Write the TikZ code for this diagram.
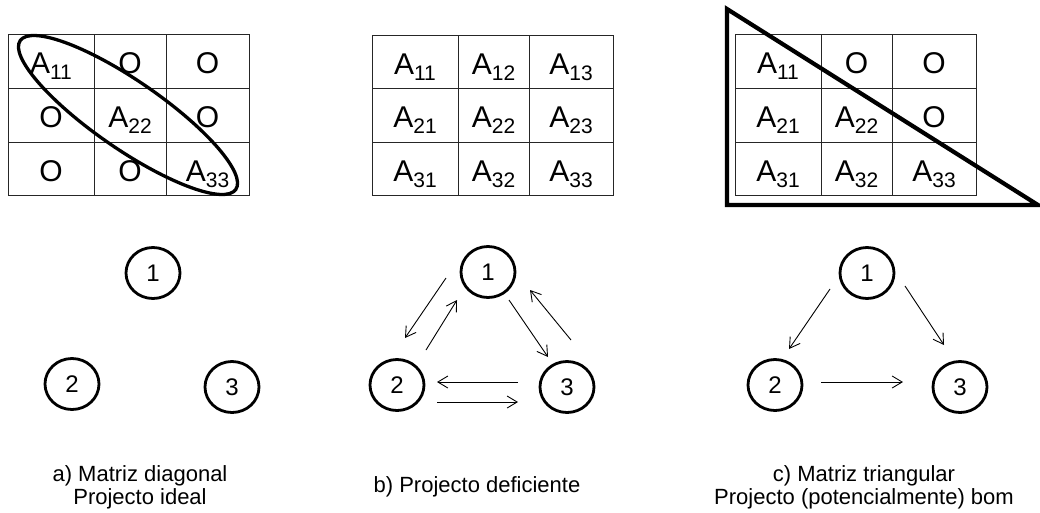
\documentclass[tikz,border=0pt]{standalone}
\usepackage{fontspec}
\setmainfont{Liberation Sans}
\usetikzlibrary{arrows.meta,shapes.geometric}
\newcommand{\mA}[1]{A\raisebox{-6.5pt}{\fontsize{21}{21}\selectfont #1}}
\begin{document}
\begin{tikzpicture}[x=1pt,y=-1pt,
  grid/.style={line width=0.9pt,black!85},
  cell/.style={anchor=base,inner sep=0pt,font=\fontsize{30}{32}\selectfont},
  vtx/.style={ellipse,draw,line width=2.8pt,minimum width=54pt,minimum height=51pt,inner sep=0pt,font=\fontsize{24}{25}\selectfont},
  arr/.style={line width=0.9pt,-{Straight Barb[length=10pt,width=12pt,line width=0.9pt]}},
  captext/.style={anchor=base,align=center,font=\fontsize{22}{23}\selectfont,inner sep=0pt}]
\useasboundingbox (0,0) rectangle (1040,512);
% ---------- matrix a
\draw[grid] (8,34) rectangle (249,195);
\draw[grid] (94,34) -- (94,195) (166,34) -- (166,195) (8,88) -- (249,88) (8,142) -- (249,142);
\node[cell] (a11) at (51,73) {\mA{11}};
\node[cell] (a12) at (130,73) {O};
\node[cell] (a13) at (207.5,73) {O};
\node[cell] (a21) at (51,127) {O};
\node[cell] (a22) at (130,127) {\mA{22}};
\node[cell] (a23) at (207.5,127) {O};
\node[cell] (a31) at (51,181) {O};
\node[cell] (a32) at (130,181) {O};
\node[cell] (a33) at (207.5,181) {\mA{33}};
\draw[line width=3.3pt,rotate around={-34.6:(128,115)}] (128,115) ellipse [x radius=131, y radius=34];
% ---------- matrix b
\draw[grid] (372,35) rectangle (613,195);
\draw[grid] (458,35) -- (458,195) (529,35) -- (529,195) (372,88) -- (613,88) (372,142) -- (613,142);
\node[cell] (b11) at (415,74) {\mA{11}};
\node[cell] (b12) at (493.5,74) {\mA{12}};
\node[cell] (b13) at (571,74) {\mA{13}};
\node[cell] (b21) at (415,127) {\mA{21}};
\node[cell] (b22) at (493.5,127) {\mA{22}};
\node[cell] (b23) at (571,127) {\mA{23}};
\node[cell] (b31) at (415,181) {\mA{31}};
\node[cell] (b32) at (493.5,181) {\mA{32}};
\node[cell] (b33) at (571,181) {\mA{33}};
% ---------- matrix c
\draw[grid] (735,34) rectangle (976,195);
\draw[grid] (821,34) -- (821,195) (892,34) -- (892,195) (735,88) -- (976,88) (735,142) -- (976,142);
\node[cell] (c11) at (778,73) {\mA{11}};
\node[cell] (c12) at (856.5,73) {O};
\node[cell] (c13) at (934,73) {O};
\node[cell] (c21) at (778,127) {\mA{21}};
\node[cell] (c22) at (856.5,127) {\mA{22}};
\node[cell] (c23) at (934,127) {O};
\node[cell] (c31) at (778,181) {\mA{31}};
\node[cell] (c32) at (856.5,181) {\mA{32}};
\node[cell] (c33) at (934,181) {\mA{33}};
\draw[line width=4.2pt] (727,9) -- (727,205) -- (1038,205) -- cycle;
% ---------- graph a
\node[vtx] (ga1) at (153,273) {1};
\node[vtx] (ga2) at (72,384) {2};
\node[vtx] (ga3) at (232,387) {3};
% ---------- graph b
\node[vtx] (gb1) at (488,272) {1};
\node[vtx] (gb2) at (397,385) {2};
\node[vtx] (gb3) at (567,387) {3};
\draw[arr] ([shift={(-42,6)}]gb1.center) -- ([shift={(8,-47)}]gb2.center);
\draw[arr] ([shift={(29,-35)}]gb2.center) -- ([shift={(-31,28)}]gb1.center);
\draw[arr] ([shift={(21,28)}]gb1.center) -- ([shift={(-19,-30)}]gb3.center);
\draw[arr] ([shift={(4,-47)}]gb3.center) -- ([shift={(42,18)}]gb1.center);
\draw[arr] ([shift={(-49,-5)}]gb3.center) -- ([shift={(40,-3)}]gb2.center);
\draw[arr] ([shift={(40,17)}]gb2.center) -- ([shift={(-49,15)}]gb3.center);
% ---------- graph c
\node[vtx] (gc1) at (867,273) {1};
\node[vtx] (gc2) at (775,385) {2};
\node[vtx] (gc3) at (960,387) {3};
\draw[arr] ([shift={(-37,16)}]gc1.center) -- ([shift={(14,-36)}]gc2.center);
\draw[arr] ([shift={(38,13)}]gc1.center) -- ([shift={(-16,-42)}]gc3.center);
\draw[arr] ([shift={(46,-3)}]gc2.center) -- ([shift={(-57,-5)}]gc3.center);
% ---------- captions
\node[captext] (capa1) at (140,481) {a) Matriz diagonal};
\node[captext] (capa2) at (140,504) {Projecto ideal};
\node[captext] (capb) at (477,492) {b) Projecto deficiente};
\node[captext] (capc1) at (864,481) {c) Matriz triangular};
\node[captext] (capc2) at (864,504) {Projecto (potencialmente) bom};
\end{tikzpicture}
\end{document}
